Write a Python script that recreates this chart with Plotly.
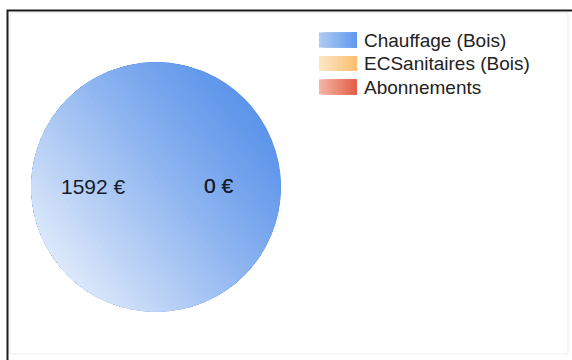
import math
import plotly.graph_objects as go

# ---- data ----
categories = ["Chauffage (Bois)", "ECSanitaires (Bois)", "Abonnements"]
values = [1592, 0, 0]
value_labels = [f"{v} €" for v in values]

# ---- styles ----
W, H = 572, 360
CX, CY, R = 156, 187, 125          # pie centre/radius in pixels
slice_colors = ["#5690e9", "#ffbf6a", "#e35a45"]
swatch_grad = [("#b0caf1", "#6199ee"), ("#fbe6c2", "#fdbf72"), ("#f3b4a3", "#e3604a")]
FONT = "Liberation Sans, Arial, sans-serif"


def px(x):
    return x / W


def py(y):
    return 1 - y / H


def hexrgb(h):
    h = h.lstrip("#")
    return tuple(int(h[i:i + 2], 16) for i in (0, 2, 4))


def mix(a, b, t):
    ca, cb = hexrgb(a), hexrgb(b)
    return "rgb(%d,%d,%d)" % tuple(round(ca[i] + (cb[i] - ca[i]) * t) for i in range(3))


fig = go.Figure(go.Pie(
    labels=categories,
    values=values,
    sort=False,
    direction="clockwise",
    marker=dict(colors=slice_colors, line=dict(width=0)),
    textinfo="none",
    hovertemplate="%{label}: %{value} €<extra></extra>",
    domain=dict(x=[px(CX - R), px(CX + R)], y=[py(CY + R), py(CY - R)]),
    showlegend=False,
))

shapes = []
annotations = []

# ---- gradient shading of the full slice (stacked opaque bands clipped to the disc) ----
dx, dy = -0.78, 0.62
n = math.hypot(dx, dy)
dx, dy = dx / n, dy / n
RR = R - 0.6
disc = [(CX + RR * math.cos(2 * math.pi * i / 240), CY + RR * math.sin(2 * math.pi * i / 240))
        for i in range(240)]


def clip(poly, thr):
    out = []
    f = lambda p: dx * (p[0] - CX) + dy * (p[1] - CY) - thr
    for i in range(len(poly)):
        p, q = poly[i], poly[(i + 1) % len(poly)]
        fp, fq = f(p), f(q)
        if fp >= 0:
            out.append(p)
        if (fp >= 0) != (fq >= 0):
            t = fp / (fp - fq)
            out.append((p[0] + (q[0] - p[0]) * t, p[1] + (q[1] - p[1]) * t))
    return out


def shade(t):
    return 0.04 + 0.76 * ((t + 1) / 2) ** 1.15


NB = 60
for k in range(NB):
    t0 = -1 + 2 * k / NB
    tc = -1 + 2 * (k + 0.5) / NB
    poly = disc if k == 0 else clip(disc, t0 * R)
    if len(poly) < 3:
        continue
    path = "M" + "L".join(f"{px(x):.5f},{py(y):.5f}" for x, y in poly) + "Z"
    shapes.append(dict(type="path", xref="paper", yref="paper", path=path,
                       fillcolor=mix(slice_colors[0], "#ffffff", shade(tc)),
                       line=dict(width=0), layer="above"))

# ---- value labels placed at each slice's mid angle (starting at 3 o'clock, clockwise) ----
total = sum(values)
cum = 0
for v, lab in zip(values, value_labels):
    mid = (cum + v / 2) / total
    cum += v
    ang = 2 * math.pi * mid
    lx = CX + 0.5 * R * math.cos(ang)
    ly = CY - 1 + 0.5 * R * math.sin(ang)
    annotations.append(dict(x=px(lx), y=py(ly), xref="paper", yref="paper", text=lab,
                            showarrow=False, xanchor="center", yanchor="middle",
                            font=dict(family=FONT, size=21, color="#161c2c")))

# ---- legend (manual, gradient swatches; stacked strips to avoid seams) ----
LX0, LX1, SW_H = 319, 357, 15
ROW_Y0, ROW_DY = 40, 23.5
NS = 16
for i, (cat, (c0, c1)) in enumerate(zip(categories, swatch_grad)):
    yc = ROW_Y0 + i * ROW_DY
    for s in range(NS):
        x0 = LX0 + (LX1 - LX0) * s / NS
        shapes.append(dict(type="rect", xref="paper", yref="paper",
                           x0=px(x0), x1=px(LX1), y0=py(yc + SW_H / 2), y1=py(yc - SW_H / 2),
                           fillcolor=mix(c0, c1, s / (NS - 1)), line=dict(width=0), layer="above"))
    annotations.append(dict(x=px(362), y=py(yc), xref="paper", yref="paper", text=cat,
                            showarrow=False, xanchor="left", yanchor="middle",
                            font=dict(family=FONT, size=19, color="#222222")))

# ---- frame ----
shapes.append(dict(type="rect", xref="paper", yref="paper",
                   x0=px(10), x1=px(568), y0=py(354), y1=py(13),
                   line=dict(color="#ededed", width=1), fillcolor="rgba(0,0,0,0)", layer="below"))
shapes.append(dict(type="rect", xref="paper", yref="paper",
                   x0=px(7.5), x1=px(W + 10), y0=py(H + 10), y1=py(10.5),
                   line=dict(color="#1c1c1c", width=2), fillcolor="rgba(0,0,0,0)", layer="above"))

fig.update_layout(
    width=W, height=H,
    margin=dict(l=0, r=0, t=0, b=0),
    paper_bgcolor="white", plot_bgcolor="white",
    showlegend=False,
    shapes=shapes,
    annotations=annotations,
)

fig.write_html("out.html", config={"displayModeBar": False},
               post_script="document.body.style.margin='0';document.body.style.overflow='hidden';")
